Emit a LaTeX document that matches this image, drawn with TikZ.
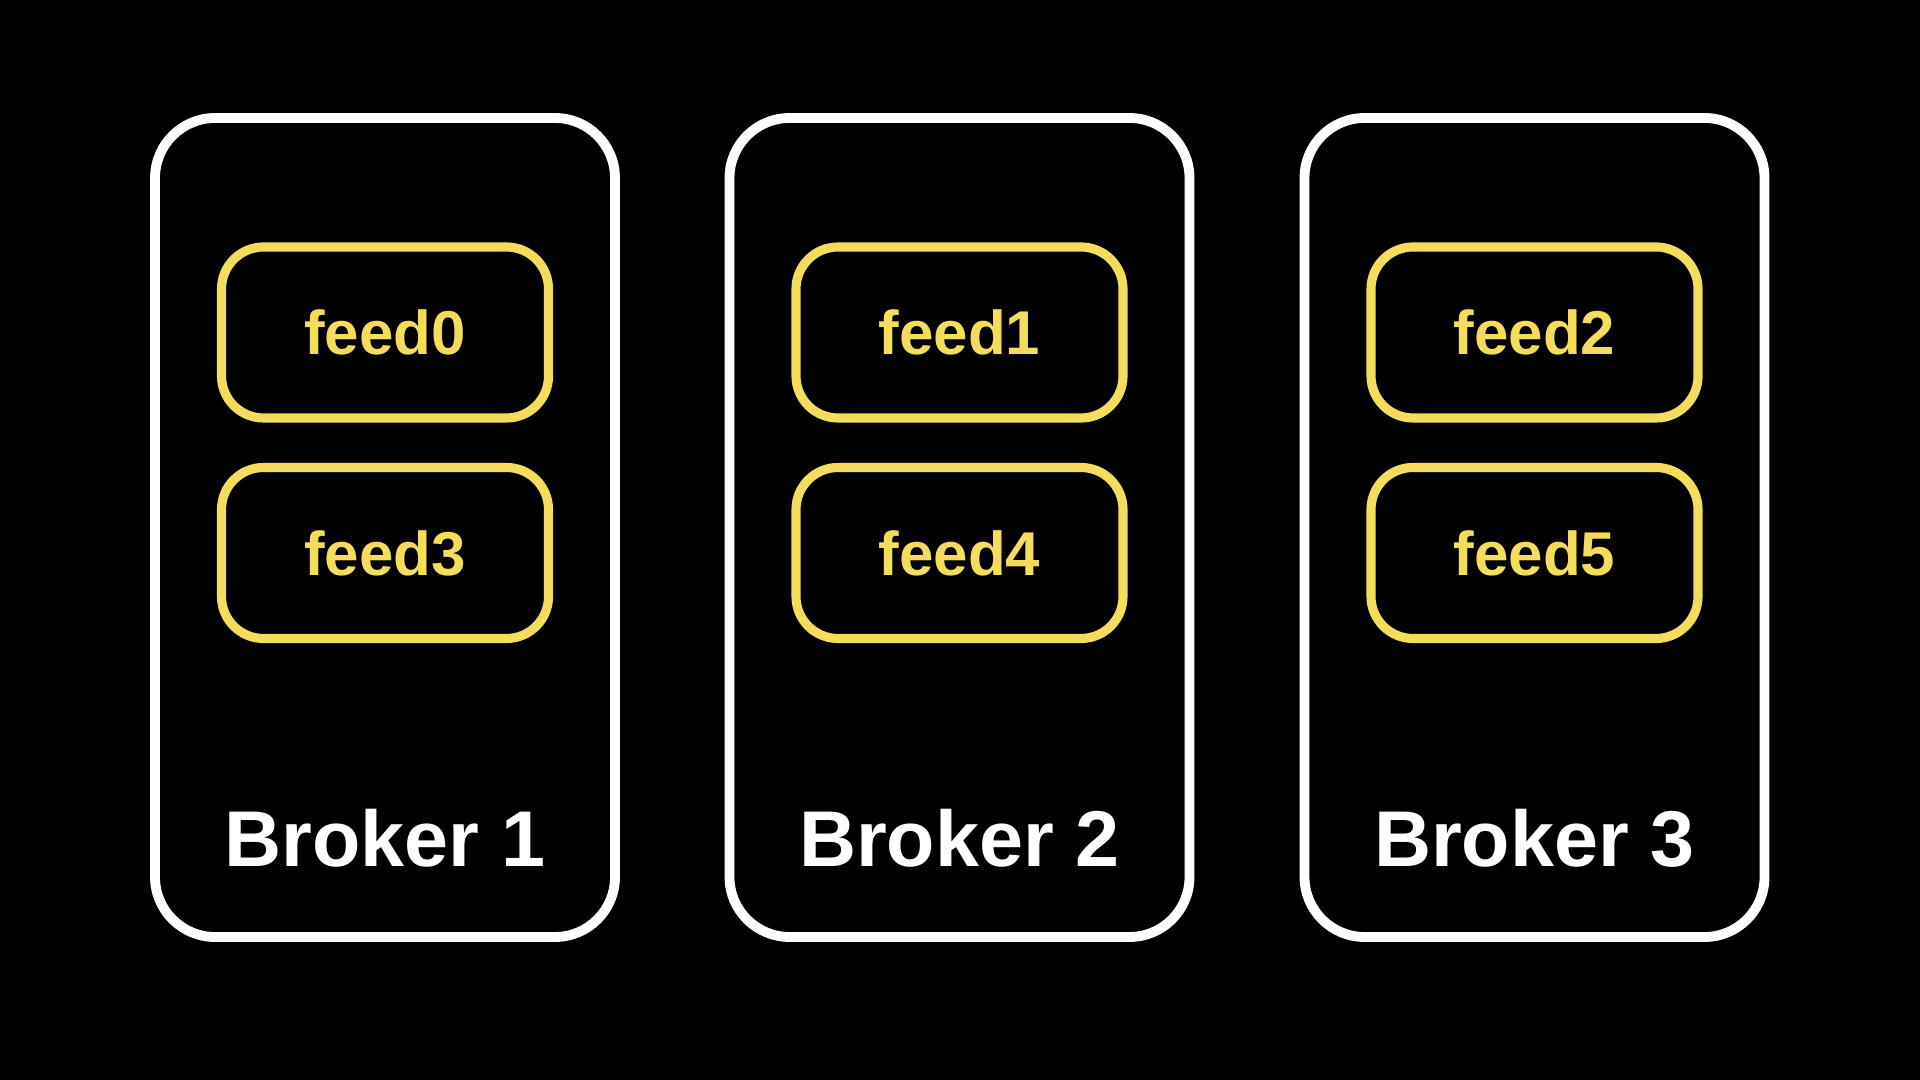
\documentclass[tikz,border=0pt]{standalone}
\usepackage{fontspec}
\setmainfont{Liberation Sans}
\definecolor{feedyellow}{RGB}{244,221,90}
\tikzset{
	broker/.style={draw=white, line width=2.8pt, rounded corners=0.6cm, minimum width=4.6cm, minimum height=8.19cm, inner sep=0pt},
	feed/.style={draw=feedyellow, line width=2.6pt, rounded corners=0.42cm, minimum width=3.27cm, minimum height=1.71cm, inner sep=0pt, text=feedyellow, font=\fontsize{17.6pt}{20pt}\selectfont\bfseries},
	label/.style={text=white, anchor=base, inner sep=0pt, font=\fontsize{22.5pt}{26pt}\selectfont\bfseries}
}
\begin{document}
\begin{tikzpicture}
			\fill[black] (0,0) rectangle (19.2,10.8);
			\useasboundingbox (0,0) rectangle (19.2,10.8);
			
			\node[broker] (b1) at (3.85, 5.525) {};
			\node[broker] (b2) at (9.595, 5.525) {};
			\node[broker] (b3) at (15.345, 5.525) {};
			
			\node[feed] (f0) at (3.85, 7.475) {feed0};
			\node[feed] (f3) at (3.85, 5.27) {feed3};
			\node[feed] (f1) at (9.595, 7.475) {feed1};
			\node[feed] (f4) at (9.595, 5.27) {feed4};
			\node[feed] (f2) at (15.345, 7.475) {feed2};
			\node[feed] (f5) at (15.345, 5.27) {feed5};
			
			\node[label] (l1) at (3.85, 2.13) {Broker 1};
			\node[label] (l2) at (9.595, 2.13) {Broker 2};
			\node[label] (l3) at (15.345, 2.13) {Broker 3};
		\end{tikzpicture}
\end{document}
